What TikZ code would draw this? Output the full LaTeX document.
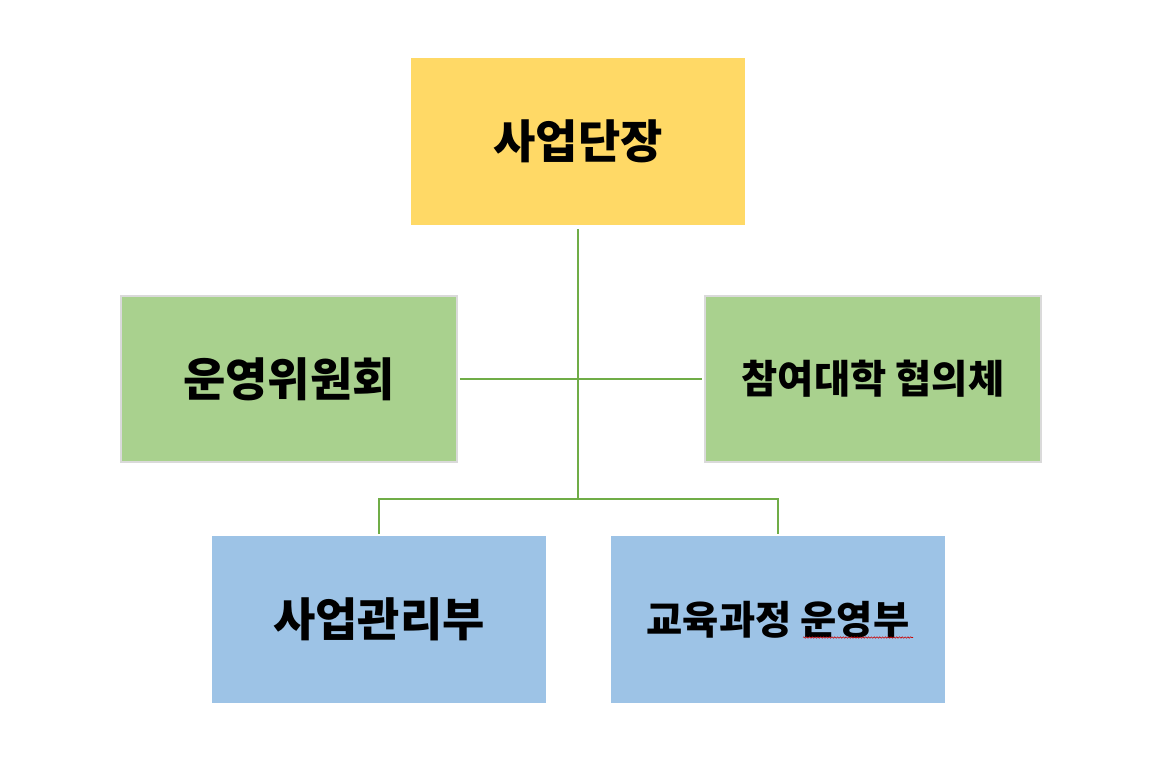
\documentclass[tikz,border=0pt]{standalone}
\usepackage{fontspec}
\setmainfont{Noto Sans CJK KR}
\usepackage{tikz}
\usetikzlibrary{positioning,
                calc,
                decorations.pathmorphing}
\definecolor{headyellow}{HTML}{FFD966}
\definecolor{boardgreen}{HTML}{A9D18E}
\definecolor{deptblue}{HTML}{9DC3E6}
\definecolor{linkgreen}{HTML}{70AD47}
\definecolor{edgegray}{HTML}{DADADA}

\begin{document}
\begin{tikzpicture}[x=0.025cm,y=-0.025cm]

\tikzset{
orgbox/.style={
minimum width=8.35cm,
minimum height=4.15cm,
inner sep=0pt,
font=\fontsize{32.7}{38}\selectfont\bfseries
},
smalltext/.style={
font=\fontsize{28}{33}\selectfont\bfseries
},
link/.style={
draw=linkgreen,
line width=1.4pt
}
}

\useasboundingbox[fill=white] (0,0) rectangle (1173,764);

%--------------------------------------------------
% HEAD
%--------------------------------------------------

\node[orgbox,fill=headyellow] (head) at (578,141.5) {사업단장};

%--------------------------------------------------
% BOARDS
%--------------------------------------------------

\node[orgbox,fill=boardgreen,draw=edgegray,line width=1.2pt,
minimum width=8.4cm] (committee) at (289,379) {운영위원회};

\node[orgbox,smalltext,fill=boardgreen,draw=edgegray,line width=1.2pt,
minimum width=8.4cm] (council) at (873,379) {참여대학 협의체};

%--------------------------------------------------
% DEPARTMENTS
%--------------------------------------------------

\node[orgbox,fill=deptblue] (mgmt) at (379,619.5) {사업관리부};

\node[orgbox,smalltext,fill=deptblue] (curri) at (778,619.5) {교육과정 운영부};

%--------------------------------------------------
% LINKS
%--------------------------------------------------

\coordinate (hub) at (578,499);

\draw[link,shorten <=3pt] (head.south) -- (hub);
\draw[link,shorten <=1.5pt,shorten >=1.5pt] (committee.east) -- (council.west);
\draw[link,shorten <=1.5pt,shorten >=1.5pt] (mgmt.north) |- (hub) -| (curri.north);

% spell-check squiggle
\draw[red!80!black,line width=0.4pt,
decorate,decoration={snake,amplitude=0.5pt,segment length=2pt}]
($(curri.center)+(25,18)$) -- ($(curri.center)+(135,18)$);

\end{tikzpicture}
\end{document}
